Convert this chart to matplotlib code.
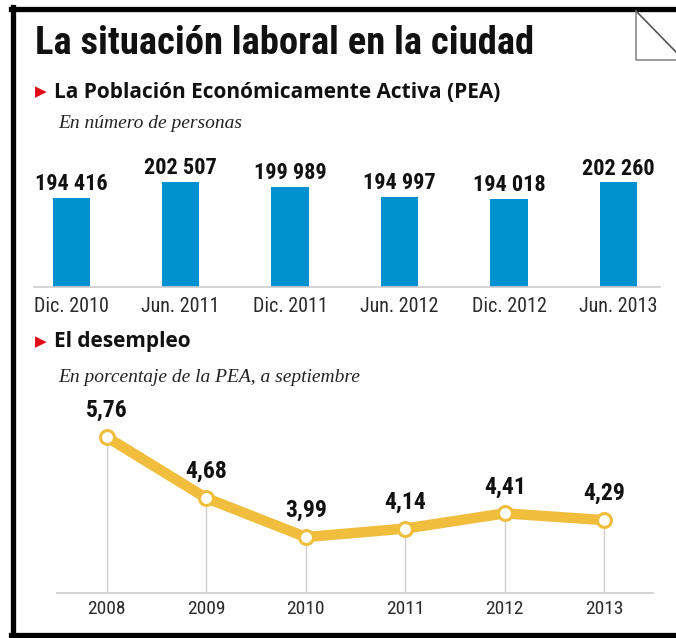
import matplotlib
matplotlib.use('Agg')
import matplotlib.pyplot as plt
from matplotlib.lines import Line2D

# data
periodos = ['Dic. 2010', 'Jun. 2011', 'Dic. 2011', 'Jun. 2012', 'Dic. 2012', 'Jun. 2013']
pea = [194416, 202507, 199989, 194997, 194018, 202260]
pea_txt = ['194 416', '202 507', '199 989', '194 997', '194 018', '202 260']

anios = [2008, 2009, 2010, 2011, 2012, 2013]
desempleo = [5.76, 4.68, 3.99, 4.14, 4.41, 4.29]

W, H = 676, 638
narrow = ['Roboto Condensed', 'Liberation Sans Narrow', 'DejaVu Sans']
semi = ['Open Sans', 'Lato', 'DejaVu Sans']
azul = '#0092d0'
amarillo = '#f0bd3c'
rojo = '#e30b17'

def fx(x):
	return x / W
def fy(y):
	return 1 - y / H

fig = plt.figure(figsize=(W/100, H/100), dpi=100)
fig.patch.set_facecolor('white')

# frame
fig.add_artist(Line2D([fx(12.5), fx(12.5)], [fy(7), fy(637)], color='black', lw=3.8))
fig.add_artist(Line2D([fx(11), fx(676)], [fy(9), fy(9)], color='black', lw=3.8))
fig.add_artist(Line2D([fx(11), fx(676)], [fy(634.5), fy(634.5)], color='black', lw=3.8))
# folded corner
fig.add_artist(Line2D([fx(636), fx(636), fx(676)], [fy(11), fy(60), fy(60)], color='#888888', lw=1.2))
fig.add_artist(Line2D([fx(636), fx(676)], [fy(11), fy(52)], color='#555555', lw=1.2))

# titles
fig.text(fx(35), fy(44), 'La situación laboral en la ciudad', family=narrow, weight='bold',
	fontsize=27.8, va='center', ha='left', color='#111111')
fig.text(fx(35), fy(92), '▶', family='DejaVu Sans', fontsize=11, color=rojo, va='center')
fig.text(fx(54), fy(92), 'La Población Económicamente Activa (PEA)', family=semi,
	weight='bold', fontsize=15, va='center', color='#111111')
fig.text(fx(58), fy(124), 'En número de personas', family='Liberation Serif', style='italic',
	fontsize=14, va='center', color='#222222')
fig.text(fx(35), fy(342), '▶', family='DejaVu Sans', fontsize=11, color=rojo, va='center')
fig.text(fx(54), fy(342), 'El desempleo', family=semi,
	weight='bold', fontsize=15, va='center', color='#111111')
fig.text(fx(58), fy(377), 'En porcentaje de la PEA, a septiembre', family='Liberation Serif', style='italic',
	fontsize=14, va='center', color='#222222')

# bar chart
ax1 = fig.add_axes([fx(34), fy(287), (660-34)/W, (287-150)/H])
x1 = list(range(len(periodos)))
ax1.bar(x1, pea, width=0.34, color=azul, bottom=0)
ax1.set_xlim(-0.34, 5.38)
ax1.set_ylim(149000, 218750)
for s in ['top', 'right', 'left']:
	ax1.spines[s].set_visible(False)
ax1.spines['bottom'].set_color('#cccccc')
ax1.spines['bottom'].set_linewidth(1.2)
ax1.set_yticks([])
ax1.set_xticks(x1)
ax1.set_xticklabels(periodos, family=narrow, fontsize=14.5, color='#2a2a2a')
ax1.tick_params(axis='x', length=0, pad=7)
for i in range(len(pea)):
	ax1.annotate(pea_txt[i], (x1[i], pea[i]), xytext=(0, 10), textcoords='offset points',
		ha='center', va='center', family=narrow, weight='bold', fontsize=16, color='#111111')

# line chart
ax2 = fig.add_axes([fx(57), fy(593), (653-57)/W, (593-400)/H])
ax2.set_xlim(2007.5, 2013.49)
ax2.set_ylim(3.0, 6.416)
ax2.vlines(anios, 3.0, desempleo, color='#d0d0d0', lw=1)
ax2.plot(anios, desempleo, color=amarillo, lw=7.5, solid_capstyle='round', solid_joinstyle='round', zorder=3)
ax2.plot(anios, desempleo, 'o', ms=10, mfc='white', mec=amarillo, mew=2.2, zorder=4)
for s in ['top', 'right', 'left']:
	ax2.spines[s].set_visible(False)
ax2.spines['bottom'].set_color('#cccccc')
ax2.spines['bottom'].set_linewidth(1.2)
ax2.set_yticks([])
ax2.set_xticks(anios)
ax2.set_xticklabels([str(a) for a in anios], family=narrow, fontsize=14, color='#2a2a2a')
ax2.tick_params(axis='x', length=0, pad=5)
for i in range(len(anios)):
	ax2.annotate(('%.2f' % desempleo[i]).replace('.', ','), (anios[i], desempleo[i]), xytext=(0, 19),
		textcoords='offset points', ha='center', va='center', family=narrow, weight='bold',
		fontsize=17, color='#111111')

fig.savefig('out.png', dpi=100)
